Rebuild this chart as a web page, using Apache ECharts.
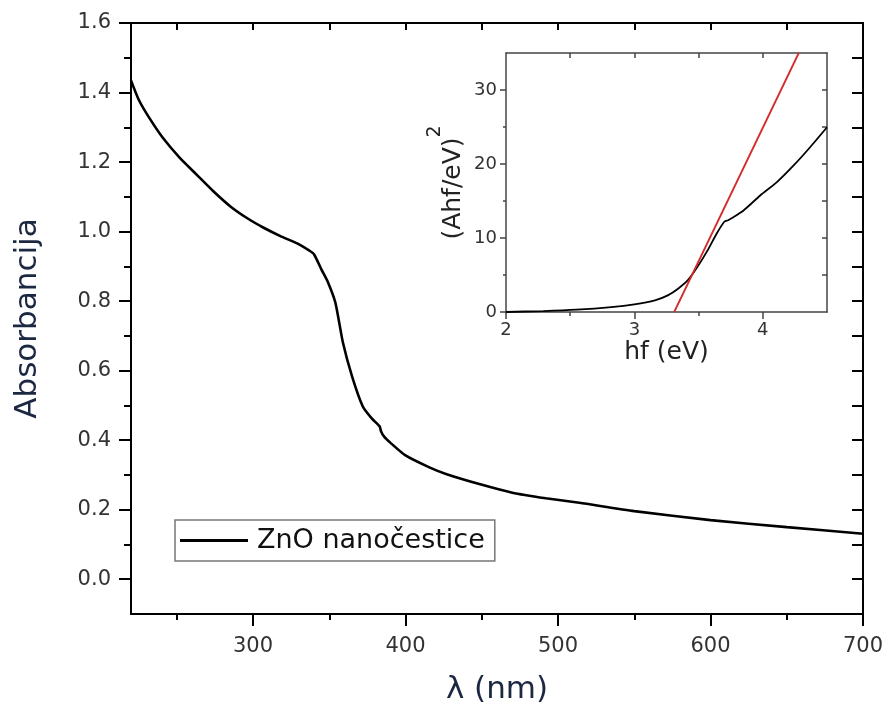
<!DOCTYPE html>
<html>
<head>
<meta charset="utf-8">
<script src="https://cdn.jsdelivr.net/npm/echarts@6/dist/echarts.min.js"></script>
<style>
  html, body { margin: 0; padding: 0; background: #fff; }
  #chart { width: 887px; height: 712px; }
</style>
</head>
<body>
<div id="chart"></div>
<script>
// main spectrum
const wavelength = [220, 225, 232, 241, 252, 263, 274, 285, 296, 307, 318, 329, 337, 340, 345, 349, 354, 359, 365, 372, 378, 383, 384, 386, 390, 400, 416, 427, 449, 470, 492, 514, 550, 600, 650, 700]
const absorbance = [1.435, 1.38, 1.327, 1.269, 1.212, 1.164, 1.116, 1.073, 1.039, 1.011, 0.987, 0.966, 0.945, 0.935, 0.89, 0.856, 0.796, 0.68, 0.583, 0.497, 0.462, 0.44, 0.425, 0.41, 0.393, 0.356, 0.321, 0.302, 0.273, 0.249, 0.233, 0.22, 0.196, 0.17, 0.15, 0.131]

// inset: Tauc plot
const photonEnergy = [2.0, 2.29, 2.55, 2.82, 3.0, 3.16, 3.26, 3.34, 3.42, 3.49, 3.57, 3.64, 3.7, 3.73, 3.76, 3.85, 3.98, 4.11, 4.24, 4.37, 4.5]
const taucValue = [0, 0.13, 0.32, 0.67, 1.04, 1.58, 2.25, 3.15, 4.37, 6.07, 8.33, 10.58, 12.2, 12.4, 12.7, 13.72, 15.75, 17.55, 19.8, 22.3, 24.97]
const fitEnergy = [3.31, 4.28]
const fitValue = [0, 35]

// ticks
const mainXMajor = [300, 400, 500, 600, 700]
const mainXMinor = [250, 350, 450, 550, 650]
const mainXTop = [250, 300, 350, 400, 450, 500, 550, 600, 650]
const mainYMajor = [0, 0.2, 0.4, 0.6, 0.8, 1.0, 1.2, 1.4, 1.6]
const mainYMinor = [0.1, 0.3, 0.5, 0.7, 0.9, 1.1, 1.3, 1.5]
const mainYRight = [0, 0.1, 0.2, 0.3, 0.4, 0.5, 0.6, 0.7, 0.8, 0.9, 1.0, 1.1, 1.2, 1.3, 1.4, 1.5]
const insetXMajor = [2, 3, 4]
const insetXMinor = [2.5, 3.5]
const insetXTop = [2.5, 3, 3.5, 4]
const insetYMajor = [0, 10, 20, 30]
const insetYMinor = [5, 15, 25]
const insetYRight = [5, 10, 15, 20, 25, 30]

const font = 'DejaVu Sans'
const titleColor = '#1c2742'

function axis(gridIndex, position, min, max, ticks, len, inside, o) {
  o = o || {}
  return {
    type: 'value',
    gridIndex: gridIndex,
    position: position,
    min: min,
    max: max,
    splitLine: { show: false },
    axisLine: { show: o.line !== false, onZero: false, lineStyle: { color: o.color || '#000', width: o.width || 2 } },
    axisTick: { show: true, inside: inside, customValues: ticks, length: len, lineStyle: { color: o.color || '#000', width: o.width || 2 } },
    axisLabel: o.label
      ? Object.assign({ customValues: ticks, fontFamily: font, color: '#333' }, o.label)
      : { show: false },
    name: o.name || '',
    nameLocation: 'middle',
    nameGap: o.nameGap || 0,
    nameTextStyle: o.nameStyle || {}
  }
}

const chart = echarts.init(document.getElementById('chart'))
chart.setOption({
  animation: false,
  backgroundColor: '#fff',
  grid: [
    { left: 131, top: 23, width: 732, height: 591 },
    { left: 506, top: 53, width: 321, height: 259, show: true, backgroundColor: '#fff', borderWidth: 0 }
  ],
  legend: {
    data: [{ name: 'ZnO nanočestice', icon: 'rect' }],
    left: 175,
    top: 520,
    orient: 'horizontal',
    padding: [7, 10, 7, 5],
    itemWidth: 68,
    itemHeight: 3,
    itemStyle: { color: '#000' },
    borderColor: '#777',
    borderWidth: 1.5,
    textStyle: { fontFamily: font, fontSize: 27, color: '#111', padding: [0, 0, 0, 4] }
  },
  xAxis: [
    axis(0, 'bottom', 220, 700, mainXMajor, 12, false, {
      label: { fontSize: 21, margin: 22 },
      name: 'λ (nm)', nameGap: 60,
      nameStyle: { fontFamily: font, fontSize: 31, color: titleColor }
    }),
    axis(0, 'bottom', 220, 700, mainXMinor, 6, false, { line: false }),
    axis(0, 'top', 220, 700, mainXTop, 7, true),
    axis(1, 'bottom', 2, 4.5, insetXMajor, 7, false, {
      color: '#444', width: 1.5,
      label: { fontSize: 18, margin: 9 },
      name: 'hf (eV)', nameGap: 28,
      nameStyle: { fontFamily: font, fontSize: 25, color: '#222' }
    }),
    axis(1, 'bottom', 2, 4.5, insetXMinor, 4, false, { line: false, color: '#444', width: 1.5 }),
    axis(1, 'top', 2, 4.5, insetXTop, 5, true, { color: '#444', width: 1.5 })
  ],
  yAxis: [
    axis(0, 'left', -0.1, 1.6, mainYMajor, 12, false, {
      label: { fontSize: 21, margin: 20, formatter: v => v.toFixed(1) },
      name: 'Absorbancija', nameGap: 88,
      nameStyle: { fontFamily: font, fontSize: 31, color: titleColor }
    }),
    axis(0, 'left', -0.1, 1.6, mainYMinor, 7, false, { line: false }),
    axis(0, 'right', -0.1, 1.6, mainYRight, 11, true),
    axis(1, 'left', 0, 35, insetYMajor, 6, false, {
      color: '#444', width: 1.5,
      label: { fontSize: 18, margin: 9 },
      name: '{a|(Ahf/eV)}{s|2}', nameGap: 40,
      nameStyle: {
        fontFamily: font, color: '#222',
        rich: {
          a: { fontFamily: font, fontSize: 25, color: '#222', lineHeight: 40, verticalAlign: 'bottom' },
          s: { fontFamily: font, fontSize: 19, color: '#222', lineHeight: 40, verticalAlign: 'top' }
        }
      }
    }),
    axis(1, 'left', 0, 35, insetYMinor, 3, false, { line: false, color: '#444', width: 1.5 }),
    axis(1, 'right', 0, 35, insetYRight, 5, true, { color: '#444', width: 1.5 })
  ],
  series: [
    {
      name: 'ZnO nanočestice',
      type: 'line',
      xAxisIndex: 0,
      yAxisIndex: 0,
      symbol: 'none',
      smooth: 0.2,
      lineStyle: { color: '#000', width: 2.6 },
      itemStyle: { color: '#000' },
      data: wavelength.map((w, i) => [w, absorbance[i]])
    },
    {
      name: 'tauc',
      type: 'line',
      xAxisIndex: 3,
      yAxisIndex: 3,
      symbol: 'none',
      smooth: 0.2,
      lineStyle: { color: '#000', width: 1.8 },
      data: photonEnergy.map((e, i) => [e, taucValue[i]])
    },
    {
      name: 'fit',
      type: 'line',
      xAxisIndex: 3,
      yAxisIndex: 3,
      symbol: 'none',
      lineStyle: { color: '#d62a2a', width: 1.8 },
      data: fitEnergy.map((e, i) => [e, fitValue[i]])
    }
  ]
})
</script>
</body>
</html>
